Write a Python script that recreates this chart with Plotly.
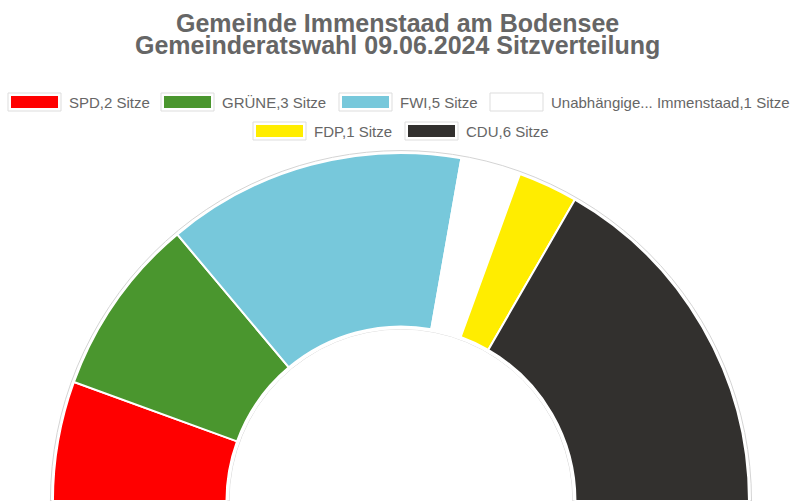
import plotly.graph_objects as go
import numpy as np

title_lines = ["Gemeinde Immenstaad am Bodensee",
               "Gemeinderatswahl 09.06.2024 Sitzverteilung"]
parties = ["SPD", "GRÜNE", "FWI", "Unabhängige... Immenstaad", "FDP", "CDU"]
seats = [2, 3, 5, 1, 1, 6]
colors = ["#ff0000", "#4a962e", "#77c8db", "#ffffff", "#ffed00", "#32302e"]

W, H = 794, 501
FONT = "Liberation Sans, Arial, sans-serif"

# seats spread over a half circle
deg = 180 / sum(seats)
widths = np.array(seats) * deg
centers = np.cumsum(widths) - widths / 2
labels = [f"{p},{s} Sitze" for p, s in zip(parties, seats)]

fig = go.Figure()

# faint grey rim round the whole half ring
fig.add_trace(go.Barpolar(
    r=[0.992], base=0, theta=[90], width=[180],
    marker=dict(color="white", line=dict(color="#d4d4d4", width=1)),
    hoverinfo="skip", showlegend=False,
))

fig.add_trace(go.Barpolar(
    r=[0.961] * len(seats), base=0.017,
    theta=centers, width=widths,
    marker=dict(color=colors, line=dict(color="white", width=2)),
    hovertext=labels, hoverinfo="text", showlegend=False,
))

fig.update_layout(
    width=W, height=H,
    margin=dict(l=0, r=0, t=0, b=0),
    paper_bgcolor="white",
    showlegend=False,
    polar=dict(
        domain=dict(x=[0.01, 1], y=[0, 352 / H]),
        sector=[0, 180],
        hole=0.487,
        bgcolor="white",
        radialaxis=dict(range=[0, 1], visible=False),
        angularaxis=dict(visible=False, direction="clockwise", rotation=180),
    ),
)

# title, two lines set close together
for text, py in zip(title_lines, [23, 45]):
    fig.add_annotation(
        text=f"<b>{text}</b>", x=0.5, y=1 - py / H, xref="paper", yref="paper",
        xanchor="center", yanchor="middle", showarrow=False,
        font=dict(family=FONT, size=25, color="#666666"),
    )

# legend drawn by hand: wide colour boxes like the original
legend_spots = [(8, 102), (161, 102), (339, 102), (490, 102), (253, 131), (405, 131)]
for (lx, ly), lab, col in zip(legend_spots, labels, colors):
    fig.add_shape(
        type="rect", xref="paper", yref="paper",
        x0=lx / W, x1=(lx + 53) / W, y0=1 - (ly - 9) / H, y1=1 - (ly + 9) / H,
        fillcolor="white", line=dict(color="#dddddd", width=1),
    )
    fig.add_shape(
        type="rect", xref="paper", yref="paper",
        x0=(lx + 3) / W, x1=(lx + 50) / W, y0=1 - (ly - 6) / H, y1=1 - (ly + 6) / H,
        fillcolor=col, line=dict(width=0),
    )
    fig.add_annotation(
        text=lab, x=(lx + 59) / W, y=1 - ly / H, xref="paper", yref="paper",
        xanchor="left", yanchor="middle", showarrow=False,
        font=dict(family=FONT, size=15, color="#666666"),
    )

# the page's default body margin would push the figure 8px off the window
fig.write_html("out.html", config={"displayModeBar": False},
               post_script="document.body.style.margin = '0';")
